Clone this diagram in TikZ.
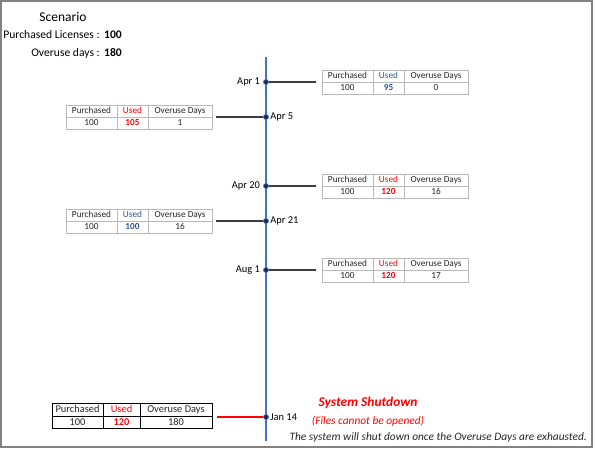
\documentclass[tikz,border=0pt]{standalone}
\usepackage{fontspec}
\setmainfont{Carlito}
\usepackage{xcolor}
\usetikzlibrary{positioning}

\definecolor{lineblue}{RGB}{68,114,196}
\definecolor{usedblue}{RGB}{47,85,151}
\definecolor{gridgray}{RGB}{185,185,185}
\definecolor{framegray}{RGB}{130,130,130}
\definecolor{linkgray}{RGB}{60,60,60}
\definecolor{dotnavy}{RGB}{25,35,70}
\definecolor{textgray}{RGB}{38,38,38}

% one usage table: name, point on the middle rule, size style, colour of Used, used, overuse days
\newcommand{\usagetab}[6]{%
  \begin{scope}[#3]
    \node[cell, pcol, anchor=south west] (#1-p)  at (#2)              {Purchased};
    \node[cell, ucol, anchor=south west] (#1-u)  at (#1-p.south east) {\textcolor{#4}{Used}};
    \node[cell, ocol, anchor=south west] (#1-o)  at (#1-u.south east) {Overuse Days};
    \node[cell, pcol, anchor=north west] (#1-pv) at (#1-p.south west) {100};
    \node[cell, ucol, anchor=north west] (#1-uv) at (#1-u.south west) {\textcolor{#4}{\textbf{#5}}};
    \node[cell, ocol, anchor=north west] (#1-ov) at (#1-o.south west) {#6};
  \end{scope}}

\begin{document}
\begin{tikzpicture}[x=0.03cm, y=-0.03cm,
    smalltab/.style={cell/.style={rectangle, draw=gridgray, line width=0.6pt, outer sep=0pt, inner sep=0pt,
        minimum height=0.36cm, text height=0.7em, text depth=0.2em, text=textgray,
        font=\fontsize{7.9}{9}\selectfont},
      pcol/.style={minimum width=1.53cm}, ucol/.style={minimum width=0.93cm}, ocol/.style={minimum width=1.92cm}},
    bigtab/.style={cell/.style={rectangle, draw=black, line width=0.7pt, outer sep=0pt, inner sep=0pt,
        minimum height=0.375cm, text height=0.7em, text depth=0.2em, text=textgray,
        font=\fontsize{8.9}{10}\selectfont},
      pcol/.style={minimum width=1.53cm}, ucol/.style={minimum width=1.11cm}, ocol/.style={minimum width=2.16cm}},
    daydot/.style={circle, draw=lineblue, fill=dotnavy, line width=0.7pt, minimum size=0.15cm, inner sep=0pt},
    datelbl/.style={inner sep=1pt, text=black, font=\fontsize{8.9}{10}\selectfont},
    info/.style={inner sep=0pt, text=black, font=\fontsize{9.9}{11}\selectfont},
    link/.style={linkgray, line width=1.3pt},
    shutlink/.style={red, line width=2pt}
]
\useasboundingbox (0,0) rectangle (595,451);
\draw[framegray, line width=1.5pt] (1,1) rectangle (592,447);

% scenario
\node[inner sep=0pt, font=\fontsize{11.5}{13}\selectfont] (title) at (63,17) {Scenario};
\node[info, anchor=base east] (lic)  at (100,39) {Purchased Licenses :};
\node[info, anchor=base west] (licv) at (104,39) {\textbf{100}};
\node[info, anchor=base east] (ovr)  at (100,56) {Overuse days :};
\node[info, anchor=base west] (ovrv) at (104,56) {\textbf{180}};

% timeline
\coordinate (top) at (266,57);
\coordinate (bot) at (266,441);
\draw[lineblue, line width=2pt] (top) -- (bot);

\node[daydot] (d1) at (266,82)  {};
\node[daydot] (d2) at (266,117) {};
\node[daydot] (d3) at (266,186) {};
\node[daydot] (d4) at (266,221) {};
\node[daydot] (d5) at (266,270) {};
\node[daydot] (d6) at (266,417) {};

\node[datelbl, left=0.05cm of d1] (l1) {Apr 1};
\node[datelbl, right=0pt of d2]   (l2) {Apr 5};
\node[datelbl, left=0.05cm of d3] (l3) {Apr 20};
\node[datelbl, right=0pt of d4]   (l4) {Apr 21};
\node[datelbl, left=0.05cm of d5] (l5) {Aug 1};
\node[datelbl, right=0pt of d6]   (l6) {Jan 14};

% tables
\usagetab{t1}{322,82}{smalltab}{usedblue}{95}{0}
\usagetab{t2}{66,117}{smalltab}{red}{105}{1}
\usagetab{t3}{322,186}{smalltab}{red}{120}{16}
\usagetab{t4}{66,221}{smalltab}{usedblue}{100}{16}
\usagetab{t5}{322,270}{smalltab}{red}{120}{17}
\usagetab{t6}{52,416}{bigtab}{red}{120}{180}

\draw[link, shorten >=0.18cm] (d1) -- (d1 -| t1-p.south west);
\draw[link, shorten >=0.13cm] (d2) -- (d2 -| t2-o.south east);
\draw[link, shorten >=0.18cm] (d3) -- (d3 -| t3-p.south west);
\draw[link, shorten >=0.13cm] (d4) -- (d4 -| t4-o.south east);
\draw[link, shorten >=0.18cm] (d5) -- (d5 -| t5-p.south west);
\draw[shutlink, shorten >=0.15cm] (d6) -- (d6 -| t6-o.south east);

% shutdown
\node[inner sep=0pt, text=red, font=\fontsize{11.5}{13}\selectfont\bfseries\itshape] (shut) at (368,403) {System Shutdown};
\node[inner sep=0pt, text=red, font=\fontsize{9.7}{11}\selectfont\itshape, below=0.2cm of shut] (files) {(Files cannot be opened)};
\node[inner sep=0pt, text=textgray, font=\fontsize{9.7}{11}\selectfont\itshape, anchor=east] (note) at (587,437) {The system will shut down once the Overuse Days are exhausted.};
\end{tikzpicture}
\end{document}
